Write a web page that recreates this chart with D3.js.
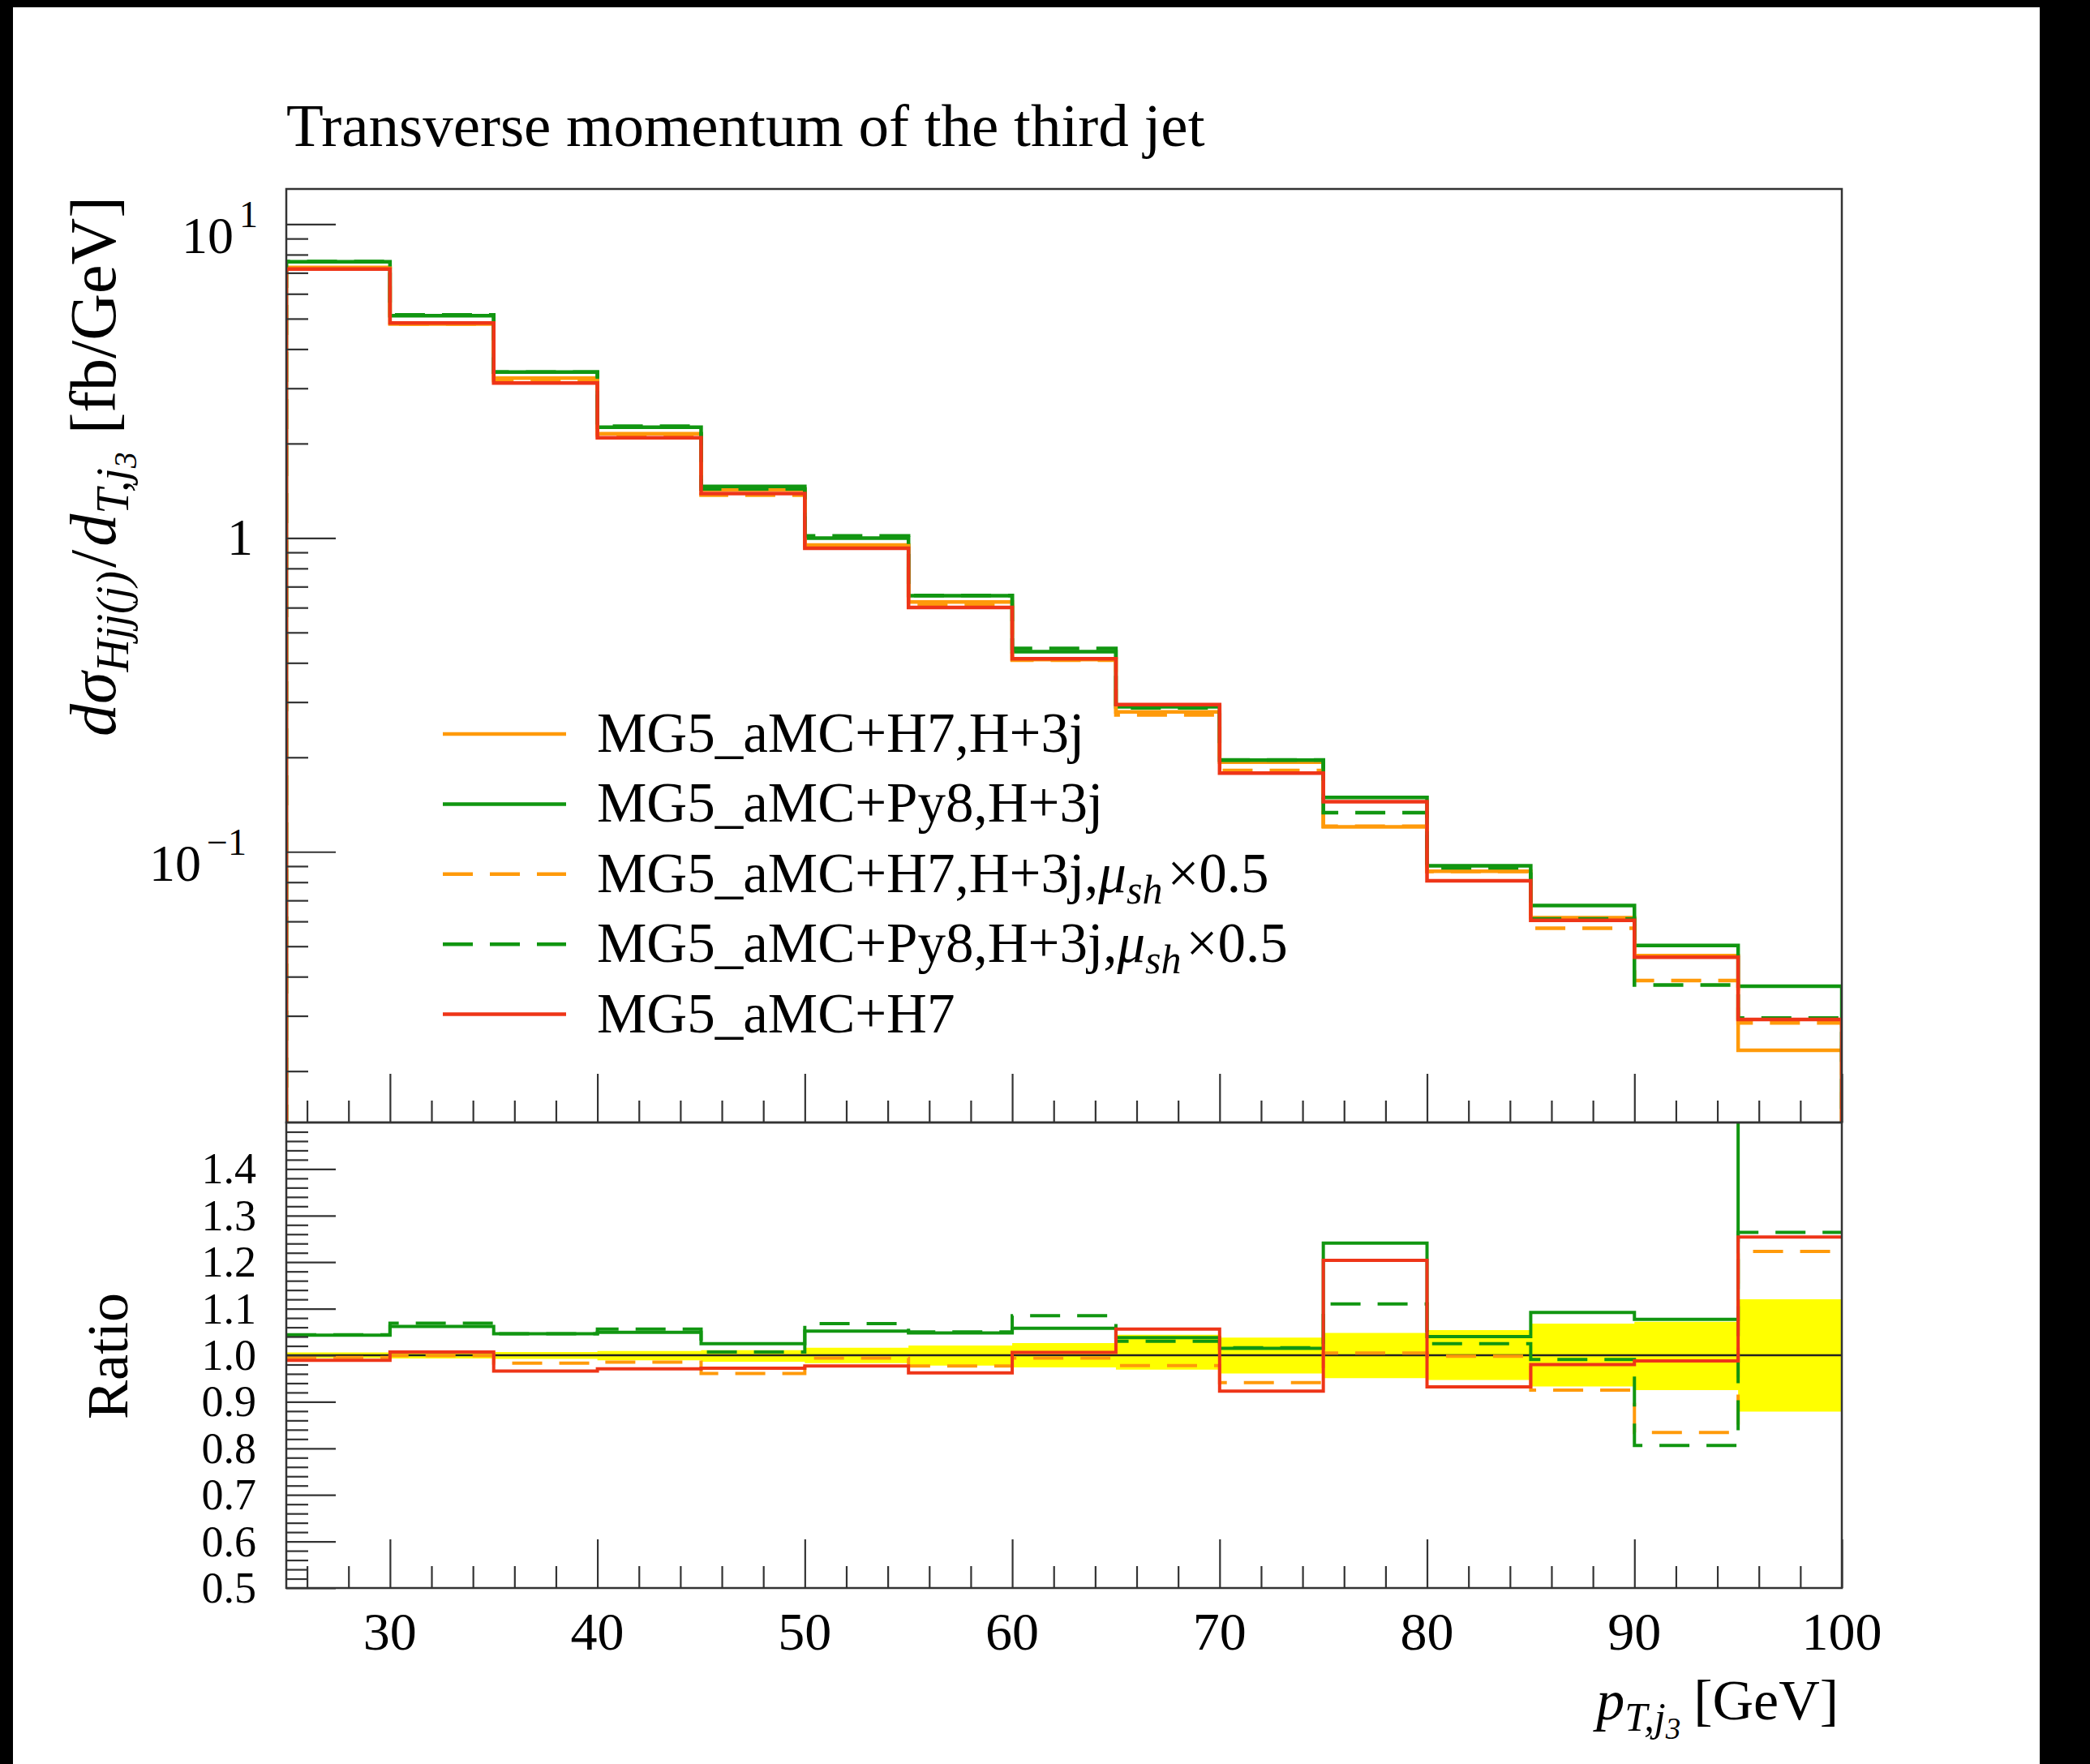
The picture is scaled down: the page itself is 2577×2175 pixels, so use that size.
<!DOCTYPE html>
<html>
<head>
<meta charset="utf-8">
<script src="https://cdn.jsdelivr.net/npm/d3@7"></script>
<style>
  body { margin: 0; background: #fff; }
  svg text { font-family: "Liberation Serif", "DejaVu Serif", serif; fill: #000; }
</style>
</head>
<body>
<div id="chart"></div>
<script>
// bins in pT of the third jet [GeV]
var binLo = [25, 30, 35, 40, 45, 50, 55, 60, 65, 70, 75, 80, 85, 90, 95];
var binHi = [30, 35, 40, 45, 50, 55, 60, 65, 70, 75, 80, 85, 90, 95, 100];

// dsigma / dpT [fb/GeV]
var h7H3j      = [7.28, 4.81, 3.23, 2.15, 1.425, 0.95, 0.625, 0.41, 0.279, 0.193, 0.120, 0.0867, 0.0617, 0.0467, 0.0233];
var py8H3j     = [7.59, 5.11, 3.38, 2.255, 1.461, 0.999, 0.655, 0.434, 0.2896, 0.1959, 0.1489, 0.0902, 0.0674, 0.0503, 0.0373];
var h7H3jHalf  = [7.24, 4.805, 3.175, 2.118, 1.369, 0.944, 0.611, 0.408, 0.2729, 0.1816, 0.1206, 0.0865, 0.0571, 0.0389, 0.0285];
var py8H3jHalf = [7.60, 5.142, 3.379, 2.27, 1.435, 1.015, 0.656, 0.445, 0.2874, 0.1961, 0.1332, 0.0889, 0.0611, 0.0376, 0.0295];
var h7Incl     = [7.20, 4.844, 3.12, 2.088, 1.385, 0.928, 0.601, 0.412, 0.2946, 0.1781, 0.1445, 0.0808, 0.0605, 0.0461, 0.0292];

// ratios to MG5_aMC+H7,H+3j
var rPy8H3j     = [1.043, 1.062, 1.046, 1.049, 1.025, 1.052, 1.048, 1.058, 1.038, 1.015, 1.241, 1.040, 1.092, 1.077, 1.60];
var rH7H3jHalf  = [0.995, 0.999, 0.983, 0.985, 0.961, 0.994, 0.977, 0.994, 0.978, 0.941, 1.005, 0.998, 0.925, 0.834, 1.223];
var rPy8H3jHalf = [1.044, 1.069, 1.046, 1.056, 1.007, 1.068, 1.050, 1.085, 1.030, 1.016, 1.110, 1.025, 0.991, 0.806, 1.264];
var rH7Incl     = [0.989, 1.007, 0.966, 0.971, 0.972, 0.977, 0.962, 1.006, 1.056, 0.923, 1.204, 0.932, 0.980, 0.988, 1.254];

// yellow uncertainty band of the reference (relative)
var bandUp   = [0.006, 0.007, 0.007, 0.009, 0.011, 0.016, 0.021, 0.026, 0.044, 0.038, 0.048, 0.054, 0.068, 0.072, 0.120];
var bandDown = [0.006, 0.007, 0.008, 0.011, 0.014, 0.017, 0.022, 0.026, 0.031, 0.039, 0.049, 0.053, 0.067, 0.075, 0.121];

var xTicks = [30, 40, 50, 60, 70, 80, 90, 100];
var ratioTicks = [1.4, 1.3, 1.2, 1.1, 1.0, 0.9, 0.8, 0.7, 0.6, 0.5];

var orange = "#ff9a0a", green = "#119611", red = "#ee3518";

var series = [
  {name: "MG5_aMC+H7,H+3j",  mu: false, color: orange, dash: false, vals: h7H3j,      ratio: null},
  {name: "MG5_aMC+Py8,H+3j", mu: false, color: green,  dash: false, vals: py8H3j,     ratio: rPy8H3j},
  {name: "MG5_aMC+H7,H+3j,", mu: true,  color: orange, dash: true,  vals: h7H3jHalf,  ratio: rH7H3jHalf},
  {name: "MG5_aMC+Py8,H+3j,",mu: true,  color: green,  dash: true,  vals: py8H3jHalf, ratio: rPy8H3jHalf},
  {name: "MG5_aMC+H7",       mu: false, color: red,    dash: false, vals: h7Incl,     ratio: rH7Incl}
];

var W = 2577, H = 2175;
var pLeft = 353, pRight = 2271, pTop = 233, pMid = 1384, pBottom = 1958;

var svg = d3.select("#chart").append("svg")
    .attr("width", W)
    .attr("height", H);

svg.append("rect").attr("width", W).attr("height", H).attr("fill", "#fff");
// dark border of the screenshot
svg.append("rect").attr("x", 0).attr("y", 0).attr("width", W).attr("height", 9).attr("fill", "#000");
svg.append("rect").attr("x", 0).attr("y", 0).attr("width", 16).attr("height", H).attr("fill", "#000");
svg.append("rect").attr("x", 2515).attr("y", 0).attr("width", W - 2515).attr("height", H).attr("fill", "#000");

var x = d3.scaleLinear().domain([25, 100]).range([pLeft, pRight]);
var y = d3.scaleLog().domain([0.01372, 12.95]).range([pMid, pTop]);
var yr = d3.scaleLinear().domain([0.5, 1.5]).range([pBottom, pMid]);

var defs = svg.append("defs");
defs.append("clipPath").attr("id", "clipTop")
  .append("rect").attr("x", pLeft).attr("y", pTop).attr("width", pRight - pLeft).attr("height", pMid - pTop);
defs.append("clipPath").attr("id", "clipRatio")
  .append("rect").attr("x", pLeft).attr("y", pMid).attr("width", pRight - pLeft).attr("height", pBottom - pMid);

// title
svg.append("text")
    .attr("x", pLeft)
    .attr("y", 180)
    .style("font-size", "75px")
    .text("Transverse momentum of the third jet");

// ---------- upper panel ----------
var histLine = d3.line()
    .x(function(d) { return x(d[0]); })
    .y(function(d) { return y(d[1]); })
    .curve(d3.curveStepAfter);

var gTop = svg.append("g").attr("clip-path", "url(#clipTop)");
series.forEach(function(s) {
  var pts = [[25, 1e-4]];
  s.vals.forEach(function(v, i) { pts.push([binLo[i], v]); });
  pts.push([100, s.vals[s.vals.length - 1]]);
  pts.push([100, 1e-4]);
  gTop.append("path")
      .attr("d", histLine(pts))
      .attr("fill", "none")
      .attr("stroke", s.color)
      .attr("stroke-width", 4.5)
      .attr("stroke-dasharray", s.dash ? "37,21" : null);
});

// log axis ticks, drawn inward
var majorLog = [0.1, 1, 10];
var minorLog = [];
[0.01, 0.1, 1, 10].forEach(function(dec) {
  for (var k = 2; k <= 9; k++) {
    var v = dec * k;
    if (v > 0.01372 && v < 12.95) minorLog.push(v);
  }
});

function styleAxis(g) {
  g.select(".domain").remove();
  g.selectAll("line").attr("stroke", "#333").attr("stroke-width", 2.2);
}

svg.append("g").attr("transform", "translate(" + pLeft + ",0)")
    .call(d3.axisRight(y).tickValues(majorLog).tickSize(61).tickFormat(""))
    .call(styleAxis);
svg.append("g").attr("transform", "translate(" + pLeft + ",0)")
    .call(d3.axisRight(y).tickValues(minorLog).tickSize(27).tickFormat(""))
    .call(styleAxis);

// x ticks on both panels (pointing up)
var xMinor = [];
for (var m = 26; m < 100; m += 2) { if (m % 10 !== 0) xMinor.push(m); }
[pMid, pBottom].forEach(function(yy) {
  svg.append("g").attr("transform", "translate(0," + yy + ")")
      .call(d3.axisTop(x).tickValues(xTicks).tickSize(60).tickFormat(""))
      .call(styleAxis);
  svg.append("g").attr("transform", "translate(0," + yy + ")")
      .call(d3.axisTop(x).tickValues(xMinor).tickSize(27).tickFormat(""))
      .call(styleAxis);
});

// y labels of the log axis
function powLabel(v, baseEnd, exp) {
  var yy = y(v);
  svg.append("text").attr("x", baseEnd).attr("y", yy + 36)
      .attr("text-anchor", "end").style("font-size", "64px").text("10");
  svg.append("text").attr("x", baseEnd + 7).attr("y", yy + 4)
      .style("font-size", "46px").text(exp);
}
powLabel(10, 288, "1");
powLabel(0.1, 248, "\u22121");
svg.append("text").attr("x", 312).attr("y", y(1) + 21)
    .attr("text-anchor", "end").style("font-size", "64px").text("1");

// y title
var yt = svg.append("text")
    .attr("transform", "translate(142,575) rotate(-90)")
    .attr("text-anchor", "middle")
    .style("font-size", "80px");
yt.append("tspan").style("font-style", "italic").text("d\u03C3");
yt.append("tspan").style("font-style", "italic").style("font-size", "56px").attr("dy", 16).text("Hjj(j)");
yt.append("tspan").attr("dy", -16).attr("dx", 4).text("/");
yt.append("tspan").style("font-style", "italic").attr("dx", 4).text("d");
yt.append("tspan").style("font-style", "italic").style("font-size", "56px").attr("dy", 16).text("T,j");
yt.append("tspan").style("font-style", "italic").style("font-size", "40px").attr("dy", 10).text("3");
yt.append("tspan").attr("dy", -26).attr("dx", 22).text("[fb/GeV]");

// legend
series.forEach(function(s, i) {
  var ly = 905 + i * 86.4;
  svg.append("line")
      .attr("x1", 546).attr("x2", 698)
      .attr("y1", ly).attr("y2", ly)
      .attr("stroke", s.color)
      .attr("stroke-width", 4.5)
      .attr("stroke-dasharray", s.dash ? "37,21" : null);
  var t = svg.append("text").attr("x", 736).attr("y", ly + 22).style("font-size", "69px");
  t.append("tspan").text(s.name);
  if (s.mu) {
    t.append("tspan").style("font-style", "italic").text("\u03BC");
    t.append("tspan").style("font-style", "italic").style("font-size", "50px").attr("dy", 14).text("sh");
    t.append("tspan").attr("dy", -14).attr("dx", 6).text("\u00D70.5");
  }
});

// ---------- ratio panel ----------
var bandPts = [];
binLo.forEach(function(lo, i) {
  bandPts.push({x: lo, up: 1 + bandUp[i], dn: 1 - bandDown[i]});
  bandPts.push({x: binHi[i], up: 1 + bandUp[i], dn: 1 - bandDown[i]});
});
var gRatio = svg.append("g").attr("clip-path", "url(#clipRatio)");
gRatio.append("path")
    .attr("d", d3.area()
        .x(function(d) { return x(d.x); })
        .y0(function(d) { return yr(d.dn); })
        .y1(function(d) { return yr(d.up); })(bandPts))
    .attr("fill", "#ffff00");
gRatio.append("line")
    .attr("x1", pLeft).attr("x2", pRight)
    .attr("y1", yr(1)).attr("y2", yr(1))
    .attr("stroke", "#222").attr("stroke-width", 2.4);

var ratioLine = d3.line()
    .x(function(d) { return x(d[0]); })
    .y(function(d) { return yr(d[1]); })
    .curve(d3.curveStepAfter);

series.forEach(function(s) {
  if (!s.ratio) return;
  var pts = s.ratio.map(function(v, i) { return [binLo[i], v]; });
  pts.push([100, s.ratio[s.ratio.length - 1]]);
  gRatio.append("path")
      .attr("d", ratioLine(pts))
      .attr("fill", "none")
      .attr("stroke", s.color)
      .attr("stroke-width", 4)
      .attr("stroke-dasharray", s.dash ? "37,21" : null);
});

var rMinor = [];
for (var q = 0; q <= 50; q++) {
  var rv = Math.round((0.5 + q * 0.02) * 100) / 100;
  if (Math.round(rv * 100) % 10 !== 0) rMinor.push(rv);
}
svg.append("g").attr("transform", "translate(" + pLeft + ",0)")
    .call(d3.axisRight(yr).tickValues(ratioTicks).tickSize(61).tickFormat(""))
    .call(styleAxis);
svg.append("g").attr("transform", "translate(" + pLeft + ",0)")
    .call(d3.axisRight(yr).tickValues(rMinor).tickSize(27).tickFormat(""))
    .call(styleAxis);

svg.selectAll(".rlab").data(ratioTicks).enter().append("text")
    .attr("class", "rlab")
    .attr("x", 316)
    .attr("y", function(d) { return yr(d) + 18; })
    .attr("text-anchor", "end")
    .style("font-size", "54px")
    .text(function(d) { return d.toFixed(1); });

svg.append("text")
    .attr("transform", "translate(157,1672) rotate(-90)")
    .attr("text-anchor", "middle")
    .style("font-size", "72px")
    .text("Ratio");

// x tick labels
svg.selectAll(".xlab").data(xTicks).enter().append("text")
    .attr("class", "xlab")
    .attr("x", function(d) { return x(d); })
    .attr("y", 2034)
    .attr("text-anchor", "middle")
    .style("font-size", "66px")
    .text(function(d) { return d; });

// x title
var xt = svg.append("text")
    .attr("x", 2267)
    .attr("y", 2120)
    .attr("text-anchor", "end")
    .style("font-size", "70px");
xt.append("tspan").style("font-style", "italic").text("p");
xt.append("tspan").style("font-style", "italic").style("font-size", "50px").attr("dy", 14).text("T,j");
xt.append("tspan").style("font-style", "italic").style("font-size", "37px").attr("dy", 10).text("3");
xt.append("tspan").attr("dy", -24).attr("dx", 16).text("[GeV]");

// frames
[[pTop, pMid], [pMid, pBottom]].forEach(function(p) {
  svg.append("rect")
      .attr("x", pLeft).attr("y", p[0])
      .attr("width", pRight - pLeft).attr("height", p[1] - p[0])
      .attr("fill", "none")
      .attr("stroke", "#333")
      .attr("stroke-width", 2.5);
});
</script>
</body>
</html>
